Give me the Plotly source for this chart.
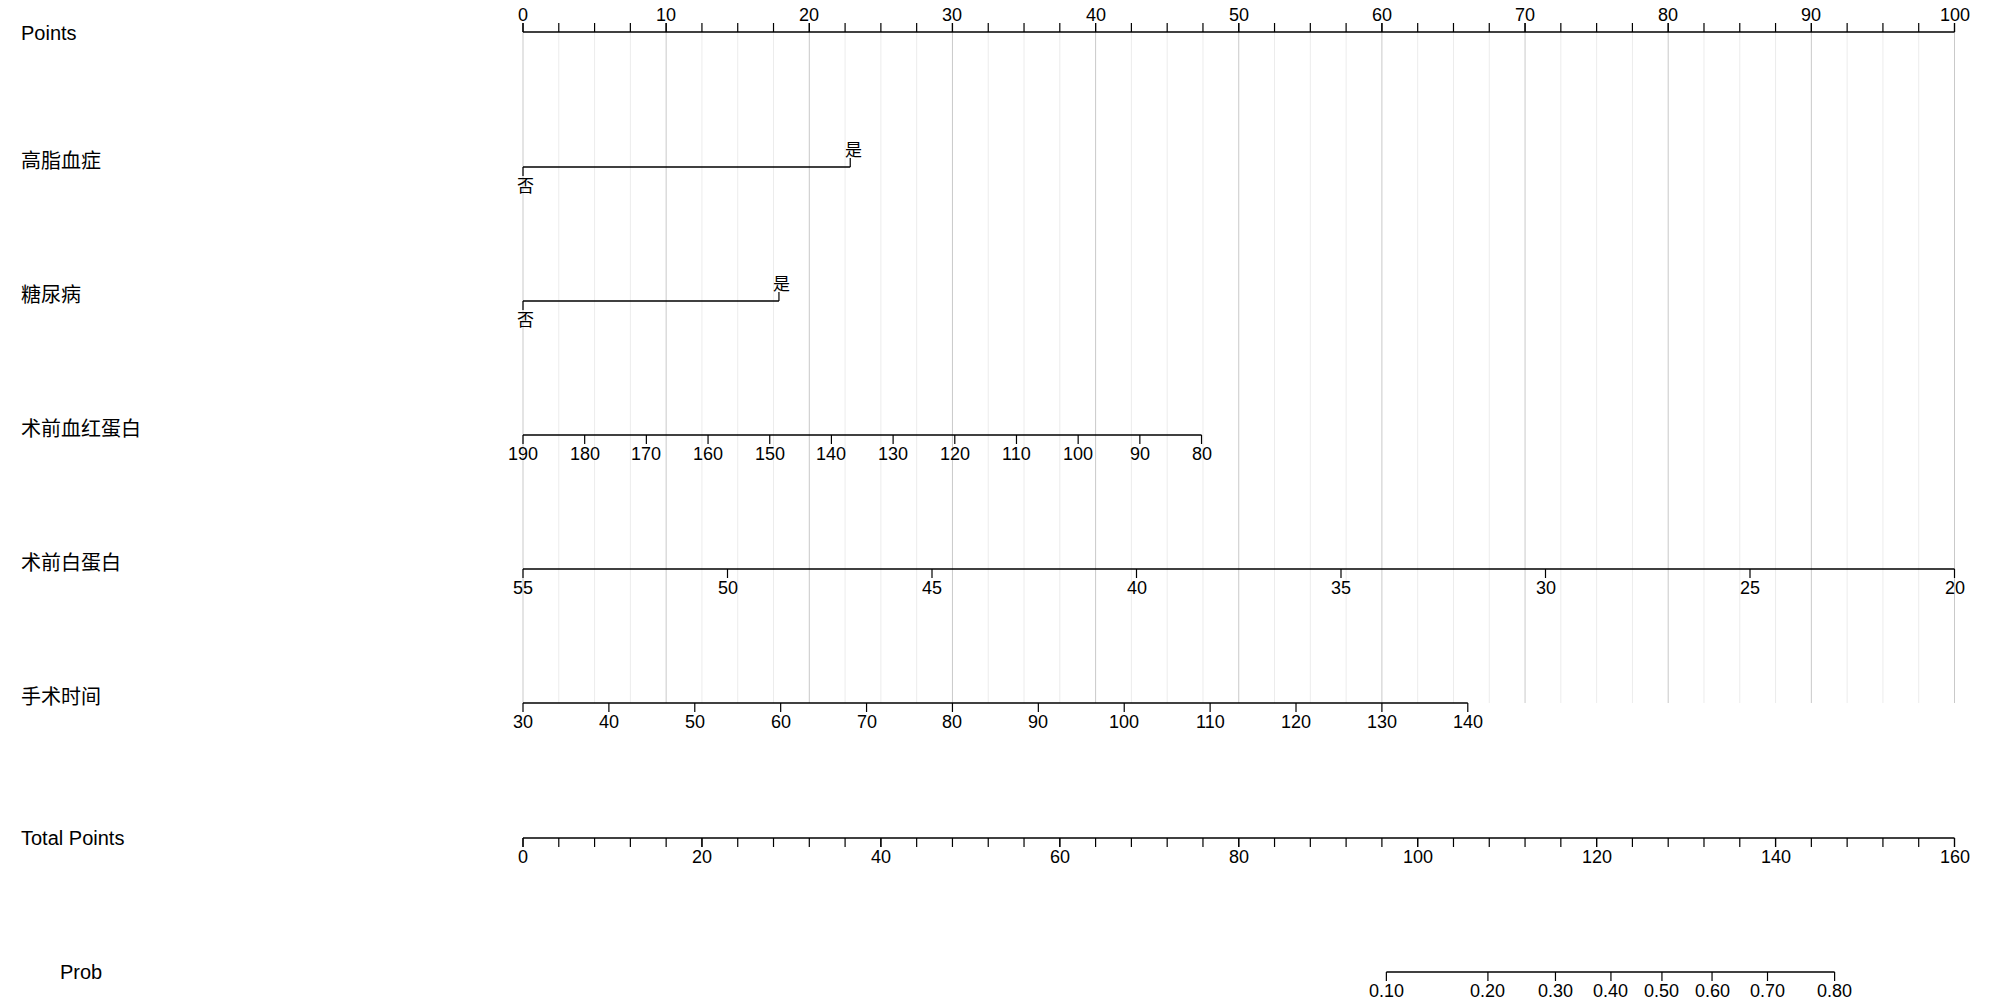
import plotly.graph_objects as go

# ---- values ----
points_ticks = [0, 10, 20, 30, 40, 50, 60, 70, 80, 90, 100]
points_minor = [i * 2.5 for i in range(41)]

lipid_levels = ["否", "是"]
lipid_points = [0, 22.86]

diabetes_levels = ["否", "是"]
diabetes_points = [0, 17.88]

hb_ticks = [190, 180, 170, 160, 150, 140, 130, 120, 110, 100, 90, 80]
hb_points_at_80 = 47.4

alb_ticks = [55, 50, 45, 40, 35, 30, 25, 20]

optime_ticks = [30, 40, 50, 60, 70, 80, 90, 100, 110, 120, 130, 140]
optime_points_at_140 = 66.0

total_ticks = [0, 20, 40, 60, 80, 100, 120, 140, 160]
total_minor = list(range(0, 161, 4))

prob_labels = ["0.10", "0.20", "0.30", "0.40", "0.50", "0.60", "0.70", "0.80"]
prob_total_points = [96.5, 107.85, 115.4, 121.6, 127.3, 132.9, 139.1, 146.6]

row_names = ["Points", "高脂血症", "糖尿病", "术前血红蛋白", "术前白蛋白", "手术时间", "Total Points", "Prob"]

# ---- layout helpers (pixel geometry) ----
W, H = 2000, 1005
X0_PX, X100_PX = 523, 1954.5
PPX = (X100_PX - X0_PX) / 100.0
LATIN = "Liberation Sans, Arial, sans-serif"
CJK = "Noto Sans CJK SC, sans-serif"
TICK = 9


def px_to_pts(px):
    return (px - X0_PX) / PPX


def lin(v, v0, v1, p0, p1):
    return p0 + (v - v0) * (p1 - p0) / (v1 - v0)


fig = go.Figure()
annotations = []


def seg_trace(xs_pairs, ys_pairs, width=1.2, color="black"):
    xs, ys = [], []
    for (xa, xb), (ya, yb) in zip(xs_pairs, ys_pairs):
        xs += [xa, xb, None]
        ys += [ya, yb, None]
    fig.add_trace(go.Scatter(x=xs, y=ys, mode="lines", hoverinfo="skip",
                             line=dict(color=color, width=width), showlegend=False))


def add_text(x, y, text, size=18, font=LATIN, xanchor="center"):
    annotations.append(dict(x=x, y=y, xref="x", yref="y", text=text, showarrow=False,
                            xanchor=xanchor, yanchor="middle",
                            font=dict(family=font, size=size, color="black")))


def scale_row(pos, labels, y, direction=1, minor=None, label_dy=19, font=LATIN, size=18):
    # axis line, ticks (direction 1 = down, -1 = up) and labels
    seg_trace([(min(pos), max(pos))], [(y, y)], width=1.6)
    allt = list(pos) + (list(minor) if minor else [])
    seg_trace([(p, p) for p in allt], [(y, y + direction * TICK) for _ in allt])
    for p, t in zip(pos, labels):
        add_text(p, y + direction * label_dy, t, size=size, font=font)


# grid lines
GRID_TOP, GRID_BOT = 32, 703
minor_only = [p for p in points_minor if p not in points_ticks]
seg_trace([(p, p) for p in minor_only], [(GRID_TOP, GRID_BOT)] * len(minor_only), width=1, color="#ececec")
seg_trace([(p, p) for p in points_ticks], [(GRID_TOP, GRID_BOT)] * len(points_ticks), width=1, color="#c9c9c9")

# Points
scale_row(points_ticks, [str(v) for v in points_ticks], 32, direction=-1, minor=points_minor, label_dy=17)

# categorical rows
for levels, pts, y in [(lipid_levels, lipid_points, 167), (diabetes_levels, diabetes_points, 301)]:
    seg_trace([(min(pts), max(pts))], [(y, y)], width=1.6)
    seg_trace([(pts[0], pts[0]), (pts[1], pts[1])], [(y, y + TICK), (y, y - TICK)])
    add_text(pts[0] + 0.2, y + 17, levels[0], size=17, font=CJK)
    add_text(pts[1] + 0.2, y - 19, levels[1], size=17, font=CJK)

# hemoglobin
hb_pos = [lin(v, 190, 80, 0, hb_points_at_80) for v in hb_ticks]
scale_row(hb_pos, [str(v) for v in hb_ticks], 435)

# albumin
alb_pos = [lin(v, 55, 20, 0, 100) for v in alb_ticks]
scale_row(alb_pos, [str(v) for v in alb_ticks], 569)

# operation time
op_pos = [lin(v, 30, 140, 0, optime_points_at_140) for v in optime_ticks]
scale_row(op_pos, [str(v) for v in optime_ticks], 703)

# total points
tot_pos = [v * 100 / 160 for v in total_ticks]
tot_minor = [v * 100 / 160 for v in total_minor]
scale_row(tot_pos, [str(v) for v in total_ticks], 838, minor=tot_minor)

# probability
prob_pos = [v * 100 / 160 for v in prob_total_points]
scale_row(prob_pos, prob_labels, 972)

# row labels
row_y = [33, 159, 293, 427, 561, 695, 838, 972]
row_x = [19, 19, 19, 19, 19, 19, 19, 58]
for name, y, xp in zip(row_names, row_y, row_x):
    f = LATIN if name.isascii() else CJK
    add_text(px_to_pts(xp), y, name, size=20, font=f, xanchor="left")

fig.update_layout(
    width=W, height=H,
    margin=dict(l=0, r=0, t=0, b=0),
    paper_bgcolor="white", plot_bgcolor="white",
    xaxis=dict(range=[px_to_pts(0), px_to_pts(W)], visible=False, fixedrange=True),
    yaxis=dict(range=[H, 0], visible=False, fixedrange=True),
    annotations=annotations,
    showlegend=False,
)

# drop the default page margin so the figure fills the window exactly
fig.write_html("out.html", config={"displayModeBar": False},
               post_script="document.body.style.margin = '0';")
